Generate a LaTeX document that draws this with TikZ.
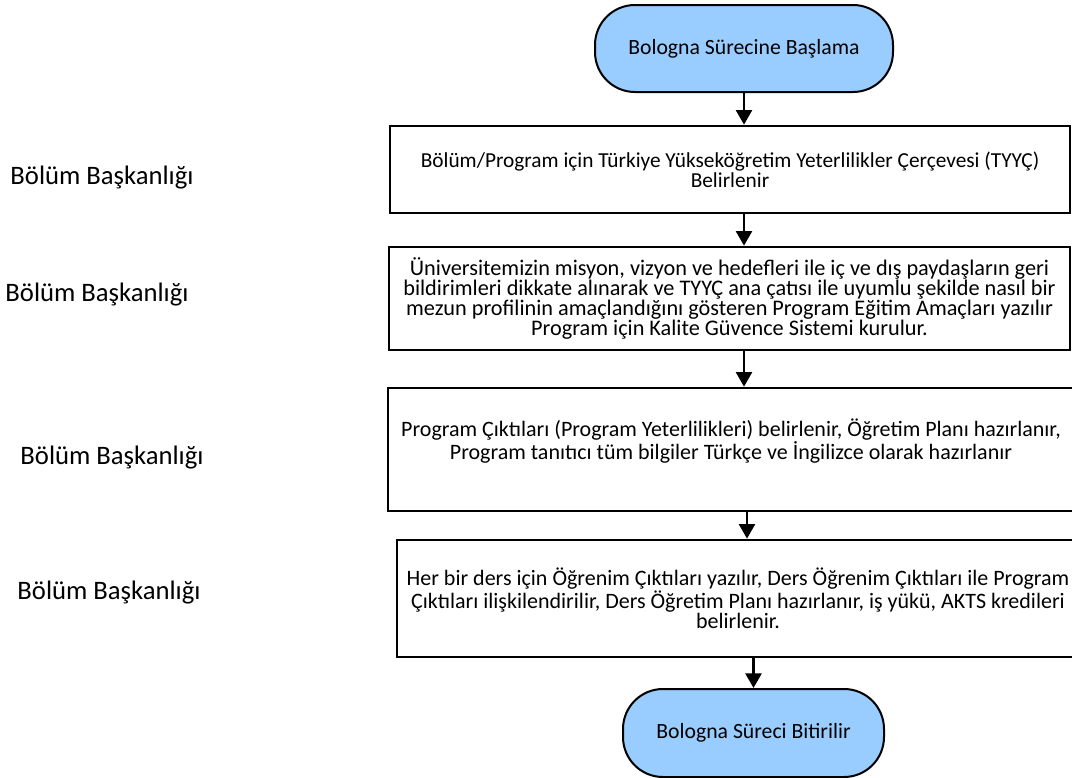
\documentclass[tikz,border=0pt]{standalone}
\usepackage{fontspec}
\setmainfont{Carlito}
\usepackage{xcolor}
\usepackage{tikz}
\usetikzlibrary{positioning,calc,arrows.meta}
\definecolor{TermBlue}{RGB}{153,204,255}

\begin{document}
\begin{tikzpicture}[x=0.75pt, y=-0.75pt]
					\tikzset{
						tm/.style={rectangle, rounded corners=30pt, draw=black, line width=1.5pt, fill=TermBlue,
							align=center, inner sep=2pt, font=\fontsize{16.3}{15.2}\selectfont},
						bx/.style={rectangle, draw=black, line width=2pt, fill=white,
							align=center, inner sep=2pt, font=\fontsize{16.5}{15.2}\selectfont},
						ar/.style={draw=black, line width=2pt, -{Triangle[width=12pt, length=11pt]}},
						lb/.style={font=\fontsize{20}{24}\selectfont, inner sep=0pt}
					}
					\useasboundingbox (0,0) rectangle (1072,778);
					\clip (0,0) rectangle (1072,778);
					\node[tm, minimum width=223.5pt, minimum height=65.25pt] (n0) at (744, 48.5) {Bologna Sürecine Başlama};
					\node[bx, minimum width=510pt, minimum height=65.25pt, font=\fontsize{16}{15.2}\selectfont] (n1) at (730, 169.5)
						{Bölüm/Program için Türkiye Yükseköğretim Yeterlilikler Çerçevesi (TYYÇ)\\ Belirlenir};
					\node[bx, minimum width=510.75pt, minimum height=77.25pt, font=\fontsize{16.7}{15.2}\selectfont] (n2) at (729.5, 298.5)
						{Üniversitemizin misyon, vizyon ve hedefleri ile iç ve dış paydaşların geri\\
						bildirimleri dikkate alınarak ve TYYÇ ana çatısı ile uyumlu şekilde nasıl bir\\
						mezun profilinin amaçlandığını gösteren Program Eğitim Amaçları yazılır\\
						Program için Kalite Güvence Sistemi kurulur.};
					\node[bx, minimum width=514.5pt, minimum height=92.25pt] (n3) at (731, 449.5)
						{Program Çıktıları (Program Yeterlilikleri) belirlenir, Öğretim Planı hazırlanır,\\
						Program tanıtıcı tüm bilgiler Türkçe ve İngilizce olarak hazırlanır\\ ~};
					\node[bx, minimum width=511.5pt, minimum height=87.75pt] (n4) at (738, 598.5)
						{Her bir ders için Öğrenim Çıktıları yazılır, Ders Öğrenim Çıktıları ile Program\\
						Çıktıları ilişkilendirilir, Ders Öğretim Planı hazırlanır, iş yükü, AKTS kredileri\\
						belirlenir.};
					\node[tm, minimum width=195.75pt, minimum height=66pt] (n5) at (753.5, 733) {Bologna Süreci Bitirilir};
					
					\node[lb] (l1) at (102, 178) {Bölüm Başkanlığı};
					\node[lb] (l2) at (97, 295) {Bölüm Başkanlığı};
					\node[lb] (l3) at (112, 458) {Bölüm Başkanlığı};
					\node[lb] (l4) at (109, 593) {Bölüm Başkanlığı};
					
					\draw[ar] (n0.south) -- (n0.south |- n1.north);
					\draw[ar] (n1.south -| n0.south) -- (n0.south |- n2.north);
					\draw[ar] (n2.south -| n0.south) -- (n0.south |- n3.north);
					\draw[ar] ([xshift=12pt]n3.south) -- ([xshift=12pt]n3.south |- n4.north);
					\draw[ar] (n4.south -| n5.north) -- (n5.north);
				\end{tikzpicture}
\end{document}
